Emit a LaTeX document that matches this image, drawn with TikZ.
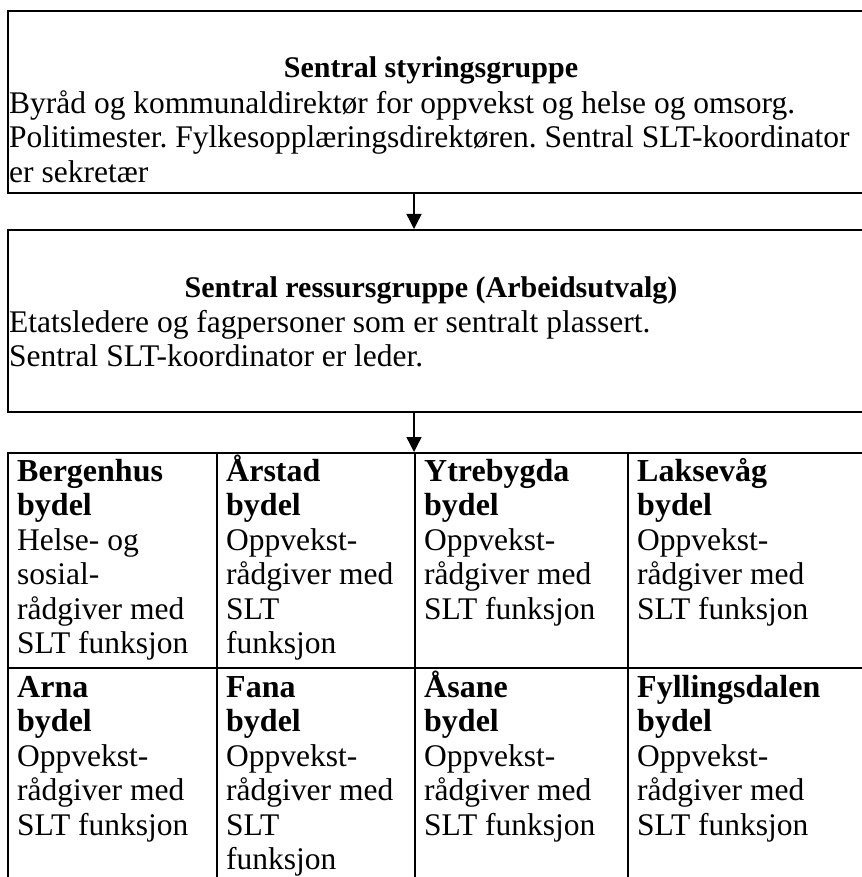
\documentclass[tikz,border=0pt]{standalone}
\usepackage{fontspec}
\setmainfont{Liberation Serif}
\usetikzlibrary{arrows.meta}
\newcommand{\fs}{\fontsize{31.5}{34.5}\selectfont}
\newcommand{\fb}{\fontsize{32}{34.5}\selectfont\bfseries}
\newcommand{\topr}{\rule{0pt}{30pt}}
\frenchspacing
\begin{document}
\begin{tikzpicture}[x=1pt,y=-1pt,
  frame/.style={draw, line width=2pt, inner sep=0pt, anchor=north west},
  body/.style={anchor=north west, inner sep=0pt, align=left, font=\fs},
  ttl/.style={anchor=base, inner sep=0pt, font=\fontsize{30}{35}\selectfont\bfseries},
  arr/.style={line width=1.4pt, -{Triangle[width=15pt,length=15pt]}}]
\useasboundingbox (0,0) rectangle (861,877);
% boxes
\node[frame, minimum width=860pt, minimum height=182pt] (b1) at (7,10) {};
\node[frame, minimum width=860pt, minimum height=182pt] (b2) at (7,229) {};
% table cells
\node[frame, minimum width=209pt, minimum height=215pt] (c11) at (7,452) {};
\node[frame, minimum width=198pt, minimum height=215pt] (c12) at (216,452) {};
\node[frame, minimum width=213pt, minimum height=215pt] (c13) at (414,452) {};
\node[frame, minimum width=240pt, minimum height=215pt] (c14) at (627,452) {};
\node[frame, minimum width=209pt, minimum height=218pt] (c21) at (7,667) {};
\node[frame, minimum width=198pt, minimum height=218pt] (c22) at (216,667) {};
\node[frame, minimum width=213pt, minimum height=218pt] (c23) at (414,667) {};
\node[frame, minimum width=240pt, minimum height=218pt] (c24) at (627,667) {};
% arrows
\coordinate (ax) at (414,0);
\draw[arr] (b1.south -| ax) -- (b2.north -| ax);
\draw[arr] (b2.south -| ax) -- (c13.north west);
% box texts
\node[ttl] (t1) at (431,78) {Sentral styringsgruppe};
\node[body] (x1) at (9,83) {\topr Byråd og kommunaldirektør for oppvekst og helse og omsorg.\\
Politimester. Fylkesopplæringsdirektøren. Sentral SLT-koordinator\\
er sekretær};
\node[ttl] (t2) at (431,297) {Sentral ressursgruppe (Arbeidsutvalg)};
\node[body] (x2) at (9,302) {\topr Etatsledere og fagpersoner som er sentralt plassert.\\
Sentral SLT-koordinator er leder.};
% cell texts row 1
\node[body] (p11) at (17,451) {\topr{\fb Bergenhus}\\{\fb bydel}\\Helse- og\\sosial-\\rådgiver med\\SLT funksjon};
\node[body] (p12) at (226,451) {\topr{\fb Årstad}\\{\fb bydel}\\Oppvekst-\\rådgiver med\\SLT\\funksjon};
\node[body] (p13) at (424,451) {\topr{\fb Ytrebygda}\\{\fb bydel}\\Oppvekst-\\rådgiver med\\SLT funksjon};
\node[body] (p14) at (637,451) {\topr{\fb Laksevåg}\\{\fb bydel}\\Oppvekst-\\rådgiver med\\SLT funksjon};
% cell texts row 2
\node[body] (p21) at (17,667) {\topr{\fb Arna}\\{\fb bydel}\\Oppvekst-\\rådgiver med\\SLT funksjon};
\node[body] (p22) at (226,667) {\topr{\fb Fana}\\{\fb bydel}\\Oppvekst-\\rådgiver med\\SLT\\funksjon};
\node[body] (p23) at (424,667) {\topr{\fb Åsane}\\{\fb bydel}\\Oppvekst-\\rådgiver med\\SLT funksjon};
\node[body] (p24) at (637,667) {\topr{\fb Fyllingsdalen}\\{\fb bydel}\\Oppvekst-\\rådgiver med\\SLT funksjon};
\end{tikzpicture}
\end{document}
